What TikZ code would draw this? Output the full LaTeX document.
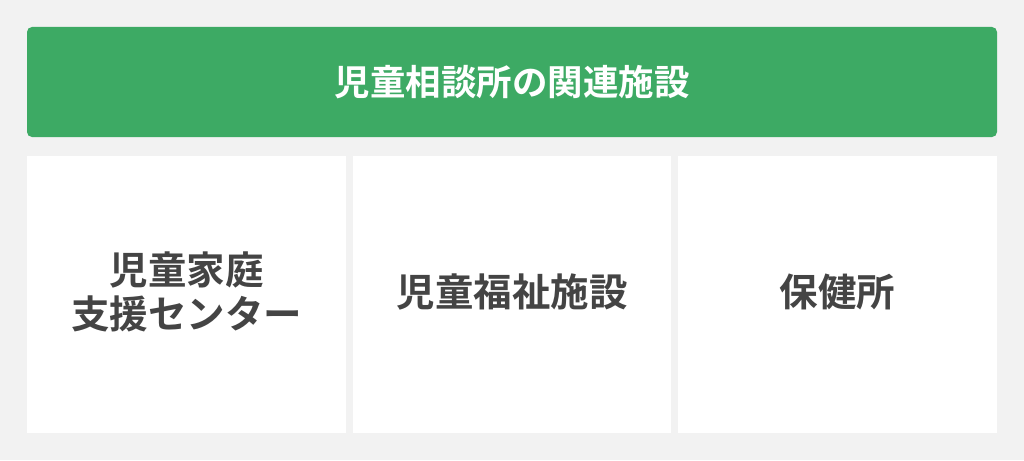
\documentclass[tikz,border=0pt]{standalone}
\usepackage{fontspec}
\newfontfamily\jp{Noto Sans CJK JP}[BoldFont={Noto Sans CJK JP Bold}]
\definecolor{bg}{HTML}{F2F2F2}
\definecolor{hdr}{HTML}{3DAA64}
\definecolor{txt}{HTML}{444444}
\tikzset{
  header/.style={fill=hdr, rounded corners=5pt, draw=none},
  cell/.style={fill=white, draw=none},
  celltext/.style={text=txt, font=\jp\bfseries\fontsize{38.5}{44}\selectfont, align=center},
}
\begin{document}
\begin{tikzpicture}[x=1pt,y=-1pt]
\fill[bg] (0,0) rectangle (1024,460);
\useasboundingbox (0,0) rectangle (1024,460);
\path[header] (27,27) rectangle (997,137);
\node[text=white, font=\jp\bfseries\fontsize{35.5}{40}\selectfont] (title) at (512,82) {児童相談所の関連施設};
\path[cell] (27,156) rectangle (346,433);
\path[cell] (353,156) rectangle (671,433);
\path[cell] (678,156) rectangle (997,433);
\node[celltext] (a) at (186.5,292) {児童家庭\\支援センター};
\node[celltext] (b) at (512,292) {児童福祉施設};
\node[celltext] (c) at (837.5,292) {保健所};
\end{tikzpicture}
\end{document}
